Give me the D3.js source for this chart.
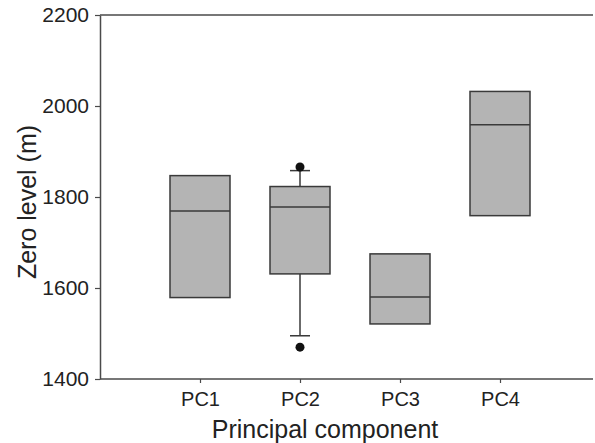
<!DOCTYPE html>
<html>
<head>
<meta charset="utf-8">
<script src="https://cdn.jsdelivr.net/npm/d3@7"></script>
<style>
  body { margin: 0; background: #fff; }
  svg { display: block; font-family: "Liberation Sans", Arial, sans-serif; }
</style>
</head>
<body>
<svg></svg>
<script>
var width = 595;
var height = 443;

// data
var categories = ["PC1", "PC2", "PC3", "PC4"];
var q1 = [1579, 1631, 1521, 1759];
var medians = [1769, 1778, 1580, 1959];
var q3 = [1847, 1823, 1675, 2032];
var whiskLow = [null, 1495, null, null];
var whiskHigh = [null, 1858, null, null];
var outliers = [[], [1866, 1470], [], []];
var yTicks = [1400, 1600, 1800, 2000, 2200];

var margin = { left: 100, right: 600, top: 15, bottom: 379 };

var svg = d3.select("svg")
            .attr("width", width)
            .attr("height", height);

var xScale = d3.scalePoint()
               .domain(categories)
               .range([margin.left, margin.right])
               .padding(1);

var yScale = d3.scaleLinear()
               .domain([1400, 2200])
               .range([margin.bottom, margin.top]);

var boxW = 60;
var capW = 20;
var axisColor = "#4a4a4a";
var boxStroke = "#3a3a3a";

var data = categories.map(function(c, i) {
  return { cat: c, q1: q1[i], med: medians[i], q3: q3[i],
           lo: whiskLow[i], hi: whiskHigh[i], out: outliers[i] };
});

// top frame line
svg.append("line")
   .attr("x1", margin.left).attr("x2", width - 2)
   .attr("y1", yScale(2200)).attr("y2", yScale(2200))
   .attr("stroke", axisColor).attr("stroke-width", 1.5);

// whiskers
var withWhisk = data.filter(function(d) { return d.lo != null; });
withWhisk.forEach(function(d) {
  var cx = xScale(d.cat);
  [[d.q1, d.lo], [d.q3, d.hi]].forEach(function(p) {
    svg.append("line")
       .attr("x1", cx).attr("x2", cx)
       .attr("y1", yScale(p[0])).attr("y2", yScale(p[1]))
       .attr("stroke", boxStroke).attr("stroke-width", 1.5);
    svg.append("line")
       .attr("x1", cx - capW / 2).attr("x2", cx + capW / 2)
       .attr("y1", yScale(p[1])).attr("y2", yScale(p[1]))
       .attr("stroke", boxStroke).attr("stroke-width", 1.5);
  });
});

// boxes
svg.selectAll("rect.box")
   .data(data)
   .enter()
   .append("rect")
   .attr("class", "box")
   .attr("x", function(d) { return xScale(d.cat) - boxW / 2; })
   .attr("y", function(d) { return yScale(d.q3); })
   .attr("width", boxW)
   .attr("height", function(d) { return yScale(d.q1) - yScale(d.q3); })
   .attr("fill", "#b4b4b4")
   .attr("stroke", boxStroke)
   .attr("stroke-width", 1.5);

svg.selectAll("line.med")
   .data(data)
   .enter()
   .append("line")
   .attr("class", "med")
   .attr("x1", function(d) { return xScale(d.cat) - boxW / 2; })
   .attr("x2", function(d) { return xScale(d.cat) + boxW / 2; })
   .attr("y1", function(d) { return yScale(d.med); })
   .attr("y2", function(d) { return yScale(d.med); })
   .attr("stroke", boxStroke)
   .attr("stroke-width", 1.5);

// outlier dots
data.forEach(function(d) {
  svg.selectAll(null)
     .data(d.out)
     .enter()
     .append("circle")
     .attr("cx", xScale(d.cat))
     .attr("cy", function(v) { return yScale(v); })
     .attr("r", 4.5)
     .attr("fill", "#111");
});

// axes
var yAxis = svg.append("g")
   .attr("transform", "translate(" + margin.left + ",0)")
   .call(d3.axisLeft(yScale).tickValues(yTicks).tickFormat(d3.format("d"))
           .tickSize(5).tickSizeOuter(0).tickPadding(6));

var xAxis = svg.append("g")
   .attr("transform", "translate(0," + margin.bottom + ")")
   .call(d3.axisBottom(xScale).tickSize(4).tickSizeOuter(0).tickPadding(9));

[yAxis, xAxis].forEach(function(g) {
  g.attr("font-size", null).attr("font-family", null);
  g.select(".domain").attr("stroke", axisColor).attr("stroke-width", 1.5);
  g.selectAll(".tick line").attr("stroke", axisColor).attr("stroke-width", 1.2);
  g.selectAll(".tick text")
   .attr("fill", "#222")
   .style("font-size", "20px");
});
yAxis.selectAll(".tick text").style("font-size", "21px");
xAxis.select(".domain").attr("d", "M" + margin.left + ",0H" + (width - 2));

// axis titles
svg.append("text")
   .attr("x", 325)
   .attr("y", 438)
   .attr("text-anchor", "middle")
   .attr("fill", "#222")
   .style("font-size", "25px")
   .text("Principal component");

svg.append("text")
   .attr("transform", "translate(36,202) rotate(-90)")
   .attr("text-anchor", "middle")
   .attr("fill", "#222")
   .style("font-size", "25px")
   .text("Zero level (m)");
</script>
</body>
</html>
